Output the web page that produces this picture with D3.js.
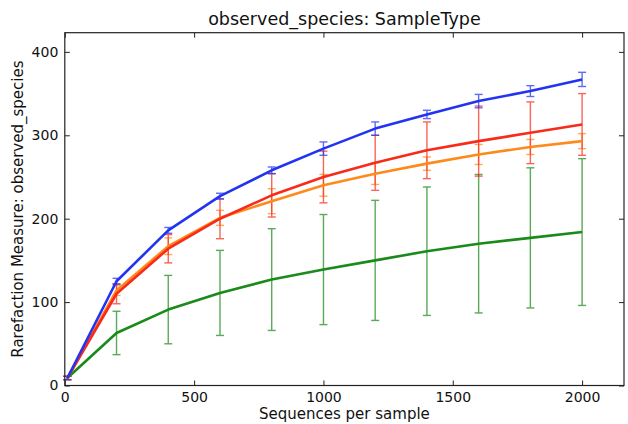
<!DOCTYPE html>
<html>
<head>
<meta charset="utf-8">
<script src="https://cdn.jsdelivr.net/npm/d3@7"></script>
<style>
  html, body { margin: 0; padding: 0; background: #fff; }
  svg { display: block; font-family: "DejaVu Sans", sans-serif; }
</style>
</head>
<body>
<svg id="chart" width="628" height="424"></svg>
<script>
// ---- data ----
const depths = [10, 200, 400, 600, 800, 1000, 1200, 1400, 1600, 1800, 2000];

const blueMean   = [9, 125, 186, 227, 258, 284, 308, 325, 341, 353, 367];
const blueErr    = [2, 3.5, 3.5, 3.5, 4, 8, 8, 5, 8, 6.5, 8.5];

const redMean    = [9, 110, 164, 200, 228, 250, 267, 282, 293, 303, 313];
const redErr     = [2, 12, 17, 24, 26, 31, 33, 34, 42, 37, 37];

const orangeMean = [9, 114, 167, 201, 221, 240, 254, 266, 277, 286, 293];
const orangeErr  = [2, 6, 10, 9, 15, 13, 13, 8, 12, 9, 9];

const greenMean  = [9, 63, 91, 111, 127, 139, 150, 161, 170, 177, 184];
const greenErr   = [2, 26, 41, 51, 61, 66, 72, 77, 83, 84, 88];

const xTicks = [0, 500, 1000, 1500, 2000];
const yTicks = [0, 100, 200, 300, 400];

const titleText = "observed_species: SampleType";
const xLabel = "Sequences per sample";
const yLabel = "Rarefaction Measure: observed_species";

// series drawn in this order (last on top)
const series = [
  { name: "green",  mean: greenMean,  err: greenErr,  color: "#1a8a1a" },
  { name: "orange", mean: orangeMean, err: orangeErr, color: "#ff8a1c" },
  { name: "red",    mean: redMean,    err: redErr,    color: "#f82a1a" },
  { name: "blue",   mean: blueMean,   err: blueErr,   color: "#2233f2" }
];

// ---- layout ----
const L = 64.8, R = 624, T = 32.7, B = 385.5;
const svg = d3.select("#chart");

const x = d3.scaleLinear().domain([0, 2162]).range([L, R]);
const y = d3.scaleLinear().domain([0, 423]).range([B, T]);

// error bars
const capHalf = 4;
series.forEach(s => {
  const g = svg.append("g").attr("stroke", s.color).attr("stroke-width", 1.4)
    .attr("opacity", 0.72).attr("fill", "none");
  depths.forEach((d, i) => {
    const cx = x(d), y1 = y(s.mean[i] - s.err[i]), y2 = y(s.mean[i] + s.err[i]);
    g.append("line").attr("x1", cx).attr("x2", cx).attr("y1", y1).attr("y2", y2);
    g.append("line").attr("x1", cx - capHalf).attr("x2", cx + capHalf).attr("y1", y1).attr("y2", y1);
    g.append("line").attr("x1", cx - capHalf).attr("x2", cx + capHalf).attr("y1", y2).attr("y2", y2);
  });
});

// lines
const line = d3.line().x((d, i) => x(depths[i])).y(d => y(d));
series.forEach(s => {
  svg.append("path").datum(s.mean)
    .attr("d", line)
    .attr("fill", "none")
    .attr("stroke", s.color)
    .attr("stroke-width", 2.6)
    .attr("stroke-linejoin", "round");
});

// axes (inward ticks on all four sides)
const fs = 14;
const ax = svg.append("g").attr("transform", `translate(0,${B})`)
  .call(d3.axisBottom(x).tickValues(xTicks).tickSize(-5).tickPadding(6.3).tickFormat(d3.format("d")));
const ay = svg.append("g").attr("transform", `translate(${L},0)`)
  .call(d3.axisLeft(y).tickValues(yTicks).tickSize(-5).tickPadding(6.5).tickFormat(d3.format("d")));
const at = svg.append("g").attr("transform", `translate(0,${T})`)
  .call(d3.axisTop(x).tickValues(xTicks).tickSize(-5).tickFormat(""));
const ar = svg.append("g").attr("transform", `translate(${R},0)`)
  .call(d3.axisRight(y).tickValues(yTicks).tickSize(-5).tickFormat(""));

[ax, ay, at, ar].forEach(a => {
  a.select(".domain").remove();
  a.selectAll("line").attr("stroke", "#222").attr("stroke-width", 1);
  a.selectAll("text").attr("font-size", fs).attr("fill", "#111")
    .attr("font-family", "DejaVu Sans, sans-serif");
});

// frame
svg.append("rect").attr("x", L).attr("y", T).attr("width", R - L).attr("height", B - T)
  .attr("fill", "none").attr("stroke", "#222").attr("stroke-width", 1.2);

// title and labels
svg.append("text").attr("x", (L + R) / 2).attr("y", 25).attr("text-anchor", "middle")
  .attr("font-size", 17.5).attr("fill", "#111").text(titleText);
svg.append("text").attr("x", (L + R) / 2).attr("y", 419).attr("text-anchor", "middle")
  .attr("font-size", 15).attr("fill", "#111").text(xLabel);
svg.append("text").attr("transform", `translate(22.5,${(T + B) / 2}) rotate(-90)`)
  .attr("text-anchor", "middle").attr("font-size", 15).attr("fill", "#111").text(yLabel);
</script>
</body>
</html>
